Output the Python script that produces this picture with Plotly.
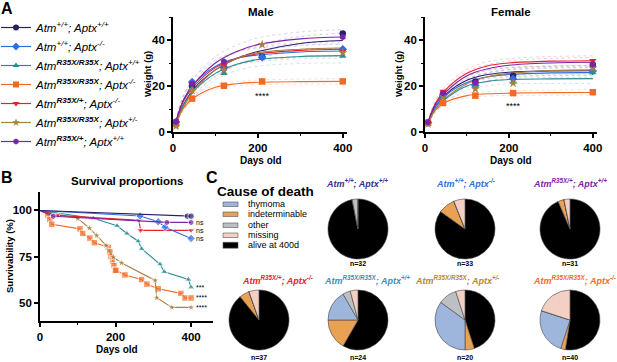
import plotly.graph_objects as go

W, H = 617, 362
def px(x):
    return x / W
def py(y):
    return 1 - y / H

FONT = "Liberation Sans, Arial, sans-serif"

# ---------------- genotypes / styles ----------------
GENO_LABELS = [
    "<i>Atm<sup>+/+</sup>; Aptx<sup>+/+</sup></i>",
    "<i>Atm<sup>+/+</sup>; Aptx<sup>-/-</sup></i>",
    "<i>Atm<sup><b>R35X/R35X</b></sup>; Aptx<sup>+/+</sup></i>",
    "<i>Atm<sup><b>R35X/R35X</b></sup>; Aptx<sup>-/-</sup></i>",
    "<i>Atm<sup><b>R35X/+</b></sup>; Aptx<sup>-/-</sup></i>",
    "<i>Atm<sup><b>R35X/R35X</b></sup>; Aptx<sup>+/-</sup></i>",
    "<i>Atm<sup><b>R35X/+</b></sup>; Aptx<sup>+/+</sup></i>",
]
COLORS = ["#2a1f6e", "#2f6de1", "#2b8c93", "#f26a24", "#e8202a", "#a8813f", "#7d23a6"]
SYMBOLS = ["circle", "diamond", "triangle-up", "square", "triangle-down", "star", "hexagon"]

# ---------------- A: body weight ----------------
MALE_DAYS = [7, 45, 120, 210, 400]
male_navy = [4.5, 20.0, 27.7, 32.7, 42.8]
male_blue = [4.2, 21.7, 28.3, 32.5, 36.0]
male_teal = [3.8, 19.0, 25.5, None, 33.0]
male_orange = [3.5, 14.5, 20.1, 22.0, 22.0]
male_red = [4.0, 20.5, 29.0, None, 35.0]
male_brown = [2.5, 18.0, 27.0, 38.0, 34.5]
male_purple = [4.3, 21.0, 30.6, None, 41.3]

FEMALE_DAYS = [7, 43, 120, 210, 400]
female_navy = [4.2, 16.5, 22.0, 24.5, 29.2]
female_blue = [4.0, 16.0, 20.2, 23.2, 26.5]
female_teal = [3.5, 15.2, 20.0, 21.8, 25.8]
female_orange = [4.0, 12.6, 15.8, 16.9, 17.3]
female_red = [4.0, 17.7, 21.0, None, 31.0]
female_brown = [3.5, 15.5, 18.7, 21.2, 27.8]
female_purple = [4.2, 16.8, 21.5, None, 29.4]

# fitted curves at these ages
FIT_DAYS = [7, 25, 50, 100, 150, 200, 300, 400]
male_fit_navy = [4.5, 12, 19, 27, 32, 35, 38.5, 39.8]
male_fit_blue = [4.5, 14, 21, 28.5, 32, 33.5, 34.8, 35.2]
male_fit_teal = [4.0, 12, 18, 25.5, 29.5, 31.5, 32.8, 33.2]
male_fit_orange = [4.0, 10.5, 15, 19.5, 21, 21.6, 21.9, 22]
male_fit_red = [4.5, 13.5, 20, 28, 32, 34, 35.5, 36]
male_fit_brown = [3.5, 11, 18, 27, 32, 34.5, 36, 36.5]
male_fit_purple = [4.5, 14, 21, 30, 35, 38, 40.5, 41.3]

female_fit_navy = [4.2, 11, 16.5, 22.5, 25, 26, 26.5, 26.6]
female_fit_blue = [4.0, 11, 16, 21.5, 24, 25, 25.7, 25.8]
female_fit_teal = [3.8, 10, 14.5, 20, 22, 22.8, 23.1, 23.2]
female_fit_orange = [4.0, 9.5, 13, 15.8, 16.6, 16.9, 17.1, 17.2]
female_fit_red = [4.0, 12.5, 18.5, 25.5, 28.8, 30, 30.8, 31]
female_fit_brown = [3.6, 10, 15, 21, 24, 25.5, 26.7, 27]
female_fit_purple = [4.0, 12, 17.5, 24.5, 27.5, 29, 30, 30.3]

# half-width of the dotted confidence bands
MALE_BAND = [0.6, 2.0, 2.6, 2.8, 2.8, 2.9, 3.0, 3.2]
FEMALE_BAND = [0.5, 1.4, 1.7, 1.8, 1.8, 1.9, 2.0, 2.1]
ORANGE_BAND = [0.3, 0.8, 1.0, 1.0, 1.0, 1.0, 1.1, 1.2]

# ---------------- B: survival ----------------
surv_navy_x = [0, 390, 400]
surv_navy_y = [100, 96.9, 96.9]
surv_blue_x = [0, 265, 313, 331, 400]
surv_blue_y = [100, 97.0, 93.9, 90.9, 84.8]
surv_teal_x = [0, 141, 204, 230, 260, 269, 318, 329, 393, 400]
surv_teal_y = [100, 95.8, 91.7, 87.5, 83.3, 79.2, 70.8, 66.7, 62.5, 58.3]
surv_orange_x = [0, 21, 26, 31, 106, 113, 132, 144, 181, 185, 188, 192, 196, 199, 201,
                 225, 269, 283, 313, 373, 384, 400]
surv_orange_y = [100, 97.5, 95, 92.5, 90, 87.5, 85, 82.5, 80, 77.5, 75, 72.5, 70, 67.5, 67.5,
                 65, 62.5, 60, 57.5, 55, 52.5, 52.5]
surv_red_x = [0, 45, 262, 266, 400]
surv_red_y = [100, 97.3, 94.6, 89.2, 89.2]
surv_brown_x = [0, 100, 131, 150, 175, 194, 216, 305, 309, 349, 400]
surv_brown_y = [100, 95.6, 90.4, 86.4, 81.0, 74.6, 71.5, 62.0, 52.6, 47.4, 47.4]
surv_purple_x = [0, 35, 336, 400]
surv_purple_y = [100, 96.8, 93.5, 93.5]
SURV_SIG = ["", "ns", "***", "****", "ns", "****", "ns"]

# ---------------- C: cause of death ----------------
CAUSES = ["alive at 400d", "indeterminable", "thymoma", "other", "missing"]
CAUSE_COLORS = ["#000000", "#e9a254", "#9fb6dc", "#bcbfc3", "#f3cfc4"]
LEGEND_ORDER = ["thymoma", "indeterminable", "other", "missing", "alive at 400d"]
pie_wt_wt = [31, 0, 0, 1, 0]
pie_wt_ko = [28, 3, 0, 0, 2]
pie_het_wt = [29, 1, 0, 0, 1]
pie_het_ko = [33, 2, 0, 0, 2]
pie_hom_wt = [14, 4, 4, 1, 1]
pie_hom_het = [9, 1, 7, 2, 1]
pie_hom_ko = [21, 1, 10, 0, 8]
PIE_TITLES = [
    "Atm<sup>+/+</sup>; Aptx<sup>+/+</sup>",
    "Atm<sup>+/+</sup>; Aptx<sup>-/-</sup>",
    "Atm<sup>R35X/+</sup>; Aptx<sup>+/+</sup>",
    "Atm<sup>R35X/+</sup>; Aptx<sup>-/-</sup>",
    "Atm<sup>R35X/R35X</sup>; Aptx<sup>+/+</sup>",
    "Atm<sup>R35X/R35X</sup>; Aptx<sup>+/-</sup>",
    "Atm<sup>R35X/R35X</sup>; Aptx<sup>-/-</sup>",
]
PIE_N = ["n=32", "n=33", "n=31", "n=37", "n=24", "n=20", "n=40"]
PIE_TITLE_COLORS = ["#3a2d8f", "#2f6de1", "#7d23a6", "#e8202a", "#3a8fb5", "#b8862e", "#f26a24"]

male_pts = [male_navy, male_blue, male_teal, male_orange, male_red, male_brown, male_purple]
female_pts = [female_navy, female_blue, female_teal, female_orange, female_red, female_brown, female_purple]
male_fits = [male_fit_navy, male_fit_blue, male_fit_teal, male_fit_orange, male_fit_red, male_fit_brown, male_fit_purple]
female_fits = [female_fit_navy, female_fit_blue, female_fit_teal, female_fit_orange, female_fit_red, female_fit_brown, female_fit_purple]
surv_x = [surv_navy_x, surv_blue_x, surv_teal_x, surv_orange_x, surv_red_x, surv_brown_x, surv_purple_x]
surv_y = [surv_navy_y, surv_blue_y, surv_teal_y, surv_orange_y, surv_red_y, surv_brown_y, surv_purple_y]
pies = [pie_wt_wt, pie_wt_ko, pie_het_wt, pie_het_ko, pie_hom_wt, pie_hom_het, pie_hom_ko]

fig = go.Figure()

# weight panels
for xa, ya, days, pts, fits, band in [("x", "y", MALE_DAYS, male_pts, male_fits, MALE_BAND),
                                      ("x2", "y2", FEMALE_DAYS, female_pts, female_fits, FEMALE_BAND)]:
    for i in range(7):
        c = COLORS[i]
        bw = ORANGE_BAND if i == 3 else band
        fit = fits[i]
        for sgn in (1, -1):
            fig.add_trace(go.Scatter(
                x=FIT_DAYS, y=[f + sgn * b for f, b in zip(fit, bw)], xaxis=xa, yaxis=ya,
                mode="lines", line=dict(color=c, width=0.6, dash="dot", shape="spline"),
                opacity=0.35, showlegend=False, hoverinfo="skip"))
    for i in range(7):
        c = COLORS[i]
        fig.add_trace(go.Scatter(
            x=FIT_DAYS, y=fits[i], xaxis=xa, yaxis=ya, mode="lines",
            line=dict(color=c, width=1.1, shape="spline"), showlegend=False, hoverinfo="skip"))
    for i in range(7):
        c = COLORS[i]
        fig.add_trace(go.Scatter(
            x=days, y=pts[i], xaxis=xa, yaxis=ya, mode="markers",
            marker=dict(symbol=SYMBOLS[i], color=c, size=6.5 if SYMBOLS[i] != "star" else 7,
                        line=dict(width=0)),
            showlegend=False))

# survival
for i in [3, 5, 2, 4, 1, 6, 0]:
    c = COLORS[i]
    sizes = [0] + [6.5] * (len(surv_x[i]) - 1)
    fig.add_trace(go.Scatter(
        x=surv_x[i], y=surv_y[i], xaxis="x3", yaxis="y3", mode="lines+markers",
        line=dict(color=c, width=1.1), marker=dict(symbol=SYMBOLS[i], color=c, size=sizes),
        showlegend=False))

# legend for genotypes
for i in range(7):
    fig.add_trace(go.Scatter(
        x=[None], y=[None], xaxis="x", yaxis="y", mode="lines+markers", name=GENO_LABELS[i],
        line=dict(color=COLORS[i], width=1.2),
        marker=dict(symbol=SYMBOLS[i], color=COLORS[i], size=6), showlegend=True))

# pies
pie_centers = [(358, 229), (465, 229), (570, 229), (259, 320), (358, 320), (465, 320), (570, 320)]
R = 30
for k, vals in enumerate(pies):
    cx, cy = pie_centers[k]
    fig.add_trace(go.Pie(
        values=vals, labels=CAUSES, sort=False, direction="clockwise", rotation=0,
        marker=dict(colors=CAUSE_COLORS, line=dict(color="#444444", width=0.6)),
        textinfo="none", showlegend=False, hoverinfo="label+value", automargin=False,
        domain=dict(x=[px(cx - R), px(cx + R)], y=[py(cy + R), py(cy - R)])))

axis_common = dict(showline=True, linecolor="black", linewidth=1.6, ticks="outside",
                   ticklen=4, tickwidth=1.5, tickcolor="black", showgrid=False, zeroline=False,
                   automargin=False,
                   tickfont=dict(family=FONT, size=11.5, color="black", weight="bold"))
minor_common = dict(ticks="outside", ticklen=2.5, tickwidth=1.2, tickcolor="black", showgrid=False)

fig.update_layout(
    width=W, height=H, margin=dict(l=0, r=0, t=0, b=0, autoexpand=False),
    paper_bgcolor="white", plot_bgcolor="white",
    font=dict(family=FONT, color="black"),
    xaxis=dict(domain=[px(173), px(347)], range=[0, 410], anchor="y", tickvals=[0, 200, 400],
               minor=dict(tickvals=[100, 300], **minor_common), **axis_common),
    yaxis=dict(domain=[py(132), py(17)], range=[0, 50], anchor="x", tickvals=[0, 20, 40],
               minor=dict(tickvals=[10, 30, 50], **minor_common), **axis_common),
    xaxis2=dict(domain=[px(425), px(597)], range=[0, 410], anchor="y2", tickvals=[0, 200, 400],
                minor=dict(tickvals=[100, 300], **minor_common), **axis_common),
    yaxis2=dict(domain=[py(132), py(17)], range=[0, 50], anchor="x2", tickvals=[0, 20, 40],
                minor=dict(tickvals=[10, 30, 50], **minor_common), **axis_common),
    xaxis3=dict(domain=[px(40), px(213)], range=[0, 458], anchor="y3", tickvals=[0, 200, 400],
                minor=dict(tickvals=[100, 300], **minor_common), **axis_common),
    yaxis3=dict(domain=[py(321), py(192)], range=[40, 110], anchor="x3", tickvals=[50, 75, 100],
                **axis_common),
    legend=dict(x=px(-4), y=py(13), xanchor="left", yanchor="top", bgcolor="rgba(0,0,0,0)",
                font=dict(family=FONT, size=11.5, color="black"), itemwidth=30,
                tracegroupgap=0),
    showlegend=True,
)

ann = []
def text(x, y, s, size, color="black", bold=True, italic=False, xanchor="center", angle=0, yanchor="middle"):
    t = s
    if bold:
        t = "<b>" + t + "</b>"
    if italic:
        t = "<i>" + t + "</i>"
    ann.append(dict(x=px(x), y=py(y), xref="paper", yref="paper", text=t, showarrow=False,
                    font=dict(family=FONT, size=size, color=color), xanchor=xanchor,
                    yanchor=yanchor, textangle=angle, borderpad=0))

# panel letters
text(0, 9, "A", 16, xanchor="left")
text(0, 177, "B", 16, xanchor="left")
text(205, 177, "C", 16, xanchor="left")
# panel A titles
text(261, 12, "Male", 11.5)
text(511, 12, "Female", 11.5)
text(261, 160, "Days old", 10)
text(511, 160, "Days old", 10)
text(147, 74, "Weight (g)", 9.5, angle=-90)
text(398, 74, "Weight (g)", 9.5, angle=-90)
# panel B
text(127, 181, "Survival proportions", 11.5)
text(117, 349, "Days old", 10)
text(9, 256, "Survivability (%)", 9.5, angle=-90)
# panel C legend
text(216, 191, "Cause of death", 13.5, xanchor="left")
leg_y = [204, 214, 225, 235, 245]
for name, yy in zip(LEGEND_ORDER, leg_y):
    text(247, yy, name, 9, bold=False, xanchor="left")
# pie titles and n
title_pos = [(357, 183), (465, 183), (570, 183), (277, 280), (367, 280), (457, 280), (574, 280)]
n_pos = [(358, 263), (465, 263), (570, 263), (259, 357), (358, 357), (465, 357), (570, 357)]
for k in range(7):
    text(title_pos[k][0], title_pos[k][1], PIE_TITLES[k], 9, color=PIE_TITLE_COLORS[k], italic=True)
    text(n_pos[k][0], n_pos[k][1], PIE_N[k], 7)

# significance
ann.append(dict(x=210, y=15.5, xref="x", yref="y", text="****", showarrow=False,
                font=dict(family=FONT, size=9, color="black")))
ann.append(dict(x=210, y=11.3, xref="x2", yref="y2", text="****", showarrow=False,
                font=dict(family=FONT, size=9, color="black")))
for i in range(7):
    if SURV_SIG[i]:
        ann.append(dict(x=408, y=surv_y[i][-1], xref="x3", yref="y3", text=SURV_SIG[i],
                        showarrow=False, xanchor="left", yanchor="middle",
                        font=dict(family=FONT, size=7, color="black")))

fig.update_layout(annotations=ann)

# cause-of-death legend swatches
shapes = []
for name, yy in zip(LEGEND_ORDER, leg_y):
    col = CAUSE_COLORS[CAUSES.index(name)]
    hh = 2.5 if name != "alive at 400d" else 3.2
    shapes.append(dict(type="rect", xref="paper", yref="paper",
                       x0=px(223), x1=px(238), y0=py(yy + hh), y1=py(yy - hh + 0.5),
                       fillcolor=col, line=dict(color="#555555", width=0.6)))
fig.update_layout(shapes=shapes)

fig.write_html("out.html", config={"displayModeBar": False},
               post_script="document.body.style.margin='0px';document.body.style.overflow='hidden';")
